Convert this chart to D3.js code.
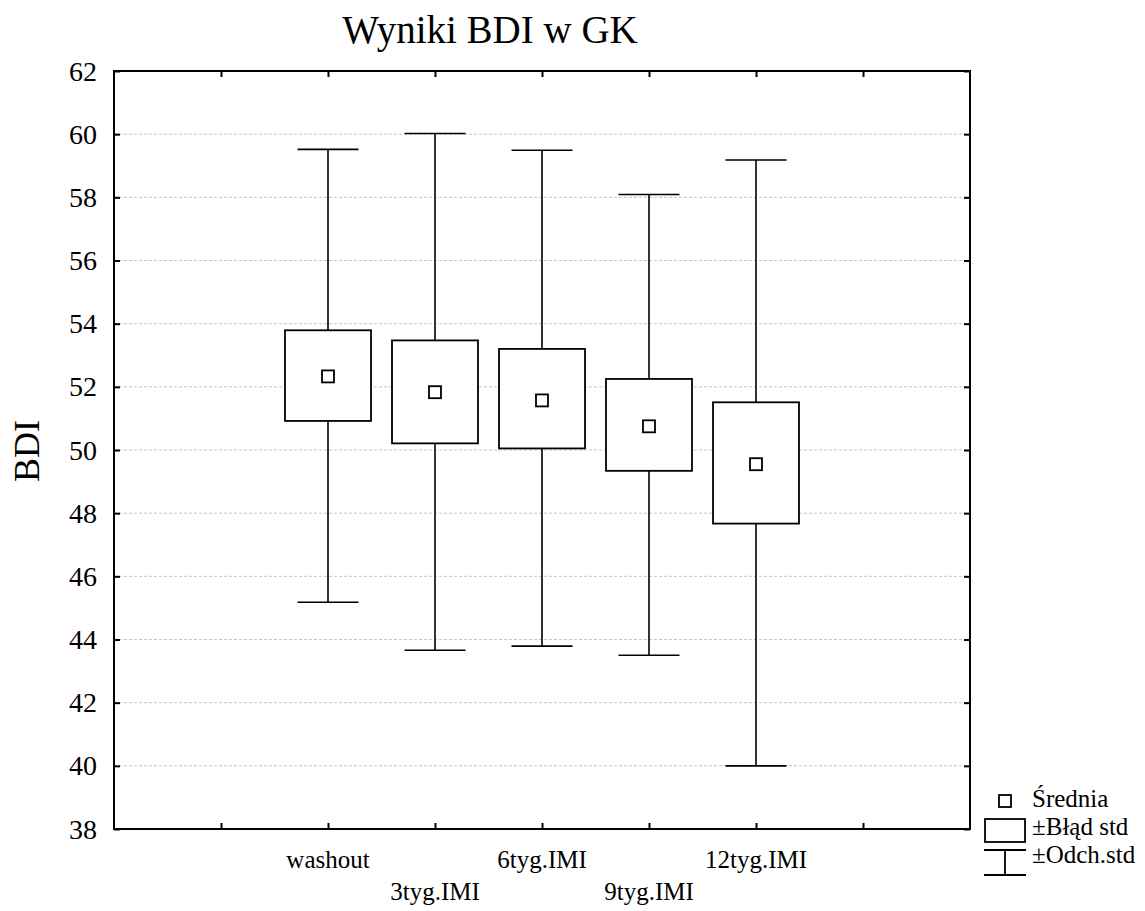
<!DOCTYPE html>
<html>
  <head>
    <meta charset="utf-8">
    <script src="https://cdn.jsdelivr.net/npm/d3@7/dist/d3.min.js"></script>
    <style type="text/css">
      body { margin: 0; background: #fff; }
      svg text { font-family: "Liberation Serif", "Times New Roman", serif; fill: #000; }
      .grid line { stroke: #c4c4c4; stroke-dasharray: 3,2; }
      .mark { fill: #fff; stroke: #000; }
    </style>
  </head>
  <body>
    <div class="plot_canvas"></div>
    <script>
      // data
      var categories = ["washout", "3tyg.IMI", "6tyg.IMI", "9tyg.IMI", "12tyg.IMI"];
      var means   = [52.33, 51.83, 51.57, 50.75, 49.55];
      var seHigh  = [53.79, 53.47, 53.20, 52.25, 51.51];
      var seLow   = [50.92, 50.21, 50.05, 49.34, 47.67];
      var sdHigh  = [59.52, 60.02, 59.49, 58.09, 59.18];
      var sdLow   = [45.18, 43.66, 43.79, 43.50, 40.00];
      var yTicks  = [38, 40, 42, 44, 46, 48, 50, 52, 54, 56, 58, 60, 62];
      var legendLabels = ["Średnia", "±Błąd std", "±Odch.std"];

      var width = 1145;
      var height = 911;
      var margin = {top: 71, right: 175, bottom: 82, left: 114};
      var w = width - margin.left - margin.right;
      var h = height - margin.top - margin.bottom;

      var svg = d3.select(".plot_canvas")
        .append("svg")
        .attr("width", width)
        .attr("height", height);

      // categories sit on positions 2..6 of an axis running 0..8
      var xScale = d3.scaleLinear().domain([0, 8]).range([margin.left, margin.left + w]);
      var yScale = d3.scaleLinear().domain([38, 62]).range([margin.top + h, margin.top]);
      var xPos = function(i) { return xScale(i + 2); };

      // grid
      svg.append("g").attr("class", "grid")
        .selectAll("line")
        .data(yTicks.filter(function(d) { return d > 38 && d < 62; }))
        .enter().append("line")
        .attr("x1", margin.left).attr("x2", margin.left + w)
        .attr("y1", function(d) { return yScale(d); })
        .attr("y2", function(d) { return yScale(d); });

      // axes, ticks inward on all four sides
      var yAxis = d3.axisLeft(yScale).tickValues(yTicks).tickSize(-6).tickFormat("");
      var yAxisR = d3.axisRight(yScale).tickValues(yTicks).tickSize(-6).tickFormat("");
      var xAxis = d3.axisBottom(xScale).tickValues([1, 2, 3, 4, 5, 6, 7]).tickSize(-6).tickFormat("");
      var xAxisT = d3.axisTop(xScale).tickValues([1, 2, 3, 4, 5, 6, 7]).tickSize(-6).tickFormat("");

      svg.append("g").attr("transform", "translate(" + margin.left + ",0)").call(yAxis);
      svg.append("g").attr("transform", "translate(" + (margin.left + w) + ",0)").call(yAxisR);
      svg.append("g").attr("transform", "translate(0," + (margin.top + h) + ")").call(xAxis);
      svg.append("g").attr("transform", "translate(0," + margin.top + ")").call(xAxisT);
      svg.selectAll(".domain").remove();
      svg.selectAll(".tick line").attr("stroke", "#000").attr("stroke-width", 2);

      // y tick labels
      svg.append("g").selectAll("text")
        .data(yTicks).enter().append("text")
        .attr("x", margin.left - 17)
        .attr("y", function(d) { return yScale(d); })
        .attr("dy", "0.34em")
        .attr("text-anchor", "end")
        .style("font-size", "28px")
        .text(function(d) { return d; });

      svg.append("rect")
        .attr("x", margin.left).attr("y", margin.top)
        .attr("width", w).attr("height", h)
        .attr("fill", "none").attr("stroke", "#000").attr("stroke-width", 2);

      // x category labels, staggered in two rows
      svg.append("g").selectAll("text")
        .data(categories).enter().append("text")
        .attr("x", function(d, i) { return xPos(i); })
        .attr("y", function(d, i) { return i % 2 == 0 ? 868 : 900; })
        .attr("text-anchor", "middle")
        .style("font-size", "25px")
        .text(function(d) { return d; });

      // whiskers (sd)
      var capW = 61;
      var g = svg.append("g");
      categories.forEach(function(c, i) {
        var x = xPos(i);
        g.append("line").attr("x1", x).attr("x2", x)
          .attr("y1", yScale(sdHigh[i])).attr("y2", yScale(sdLow[i]))
          .attr("stroke", "#000").attr("stroke-width", 1.6);
        [sdHigh[i], sdLow[i]].forEach(function(v) {
          g.append("line").attr("x1", x - capW / 2).attr("x2", x + capW / 2)
            .attr("y1", yScale(v)).attr("y2", yScale(v))
            .attr("stroke", "#000").attr("stroke-width", 1.6);
        });
      });

      // boxes (se)
      var boxW = 86;
      g.selectAll("rect.se")
        .data(categories).enter().append("rect")
        .attr("class", "mark")
        .attr("x", function(d, i) { return xPos(i) - boxW / 2; })
        .attr("y", function(d, i) { return yScale(seHigh[i]); })
        .attr("width", boxW)
        .attr("height", function(d, i) { return yScale(seLow[i]) - yScale(seHigh[i]); })
        .attr("stroke-width", 1.8);

      // means
      var mS = 12;
      g.selectAll("rect.mean")
        .data(categories).enter().append("rect")
        .attr("class", "mark")
        .attr("x", function(d, i) { return xPos(i) - mS / 2; })
        .attr("y", function(d, i) { return yScale(means[i]) - mS / 2; })
        .attr("width", mS).attr("height", mS)
        .attr("stroke-width", 1.8);

      // title and y label
      svg.append("text")
        .attr("x", 490).attr("y", 43)
        .attr("text-anchor", "middle")
        .style("font-size", "39px")
        .text("Wyniki BDI w GK");

      svg.append("text")
        .attr("transform", "translate(39,451) rotate(-90)")
        .attr("text-anchor", "middle")
        .style("font-size", "36px")
        .text("BDI");

      // legend
      var lg = svg.append("g");
      lg.append("rect").attr("class", "mark")
        .attr("x", 999).attr("y", 795).attr("width", 12).attr("height", 12)
        .attr("stroke-width", 1.8);
      lg.append("rect").attr("class", "mark")
        .attr("x", 985).attr("y", 819).attr("width", 40).attr("height", 23)
        .attr("stroke-width", 1.8);
      lg.append("line").attr("x1", 984).attr("x2", 1026).attr("y1", 850).attr("y2", 850)
        .attr("stroke", "#000").attr("stroke-width", 1.8);
      lg.append("line").attr("x1", 984).attr("x2", 1026).attr("y1", 875).attr("y2", 875)
        .attr("stroke", "#000").attr("stroke-width", 1.8);
      lg.append("line").attr("x1", 1005).attr("x2", 1005).attr("y1", 850).attr("y2", 875)
        .attr("stroke", "#000").attr("stroke-width", 1.8);
      lg.selectAll("text.leg")
        .data(legendLabels).enter().append("text")
        .attr("x", 1032)
        .attr("y", function(d, i) { return [807, 835, 863][i]; })
        .style("font-size", "25px")
        .text(function(d) { return d; });
    </script>
  </body>
</html>
